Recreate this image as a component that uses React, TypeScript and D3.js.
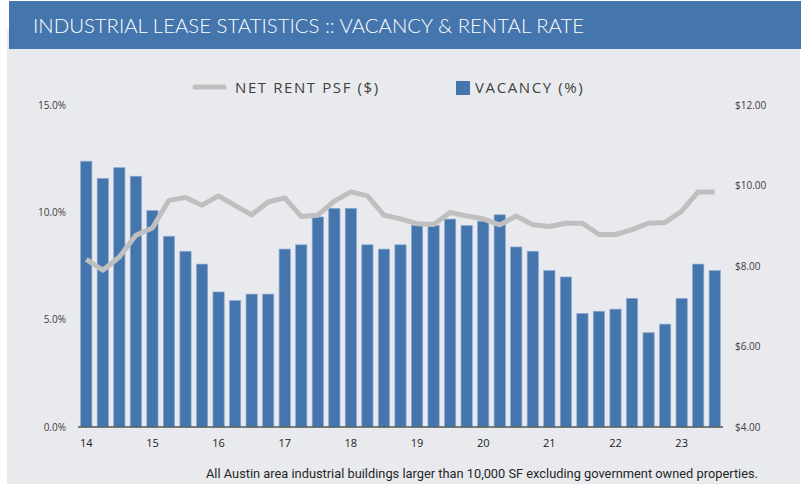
import React from "react";
import * as d3 from "d3";

const quarters: string[] = [];
const years = ["14", "15", "16", "17", "18", "19", "20", "21", "22", "23"];
years.forEach((y) => ["Q1", "Q2", "Q3", "Q4"].forEach((q) => quarters.push(`${y}${q}`)));
const categories = quarters.slice(0, 39);

const vacancy = [
  12.4, 11.6, 12.1, 11.7, 10.1, 8.9, 8.2, 7.6, 6.3, 5.9, 6.2, 6.2, 8.3, 8.5, 9.8, 10.2, 10.2, 8.5, 8.3,
  8.5, 9.4, 9.4, 9.7, 9.4, 9.6, 9.9, 8.4, 8.2, 7.3, 7.0, 5.3, 5.4, 5.5, 6.0, 4.4, 4.8, 6.0, 7.6, 7.3,
];

const rent = [
  8.17, 7.9, 8.23, 8.77, 8.95, 9.64, 9.71, 9.52, 9.75, 9.51, 9.28, 9.6, 9.7, 9.24, 9.27, 9.62, 9.85,
  9.75, 9.27, 9.18, 9.06, 9.04, 9.34, 9.25, 9.18, 9.03, 9.25, 9.03, 8.99, 9.07, 9.07, 8.79, 8.79, 8.91,
  9.07, 9.09, 9.37, 9.85, 9.85,
];

const leftTicks = [0, 5, 10, 15];
const rightTicks = [4, 6, 8, 10, 12];
const xTickLabels = years.map((y) => `${y}Q1`);

const W = 804;
const H = 484;
const plot = { left: 78, right: 723, top: 105.5, bottom: 427 };

export default function App() {
  const x = d3
    .scaleBand<string>()
    .domain(categories)
    .range([plot.left, plot.right])
    .paddingInner(0.32)
    .paddingOuter(0.16);
  const yL = d3.scaleLinear().domain([0, 15]).range([plot.bottom, plot.top]);
  const yR = d3.scaleLinear().domain([4, 12]).range([plot.bottom, plot.top]);
  const line = d3
    .line<number>()
    .x((_, i) => (x(categories[i]) as number) + x.bandwidth() / 2)
    .y((d) => yR(d));

  const axisFont = "'Open Sans', 'Noto Sans', sans-serif";

  return (
    <svg
      width={W}
      height={H}
      style={{ position: "absolute", left: 0, top: 0, display: "block" }}
    >
      <rect x={0} y={0} width={W} height={H} fill="#ffffff" />
      <rect x={7} y={30} width={793} height={H - 30} fill="#e9eaee" />
      <rect x={9} y={1} width={792} height={48} fill="#4575ad" />
      <text
        x={33}
        y={33}
        fill="#ffffff"
        fontFamily="Lato, sans-serif"
        fontWeight={300}
        fontSize={19}
        textLength={551}
        lengthAdjust="spacingAndGlyphs"
      >
        INDUSTRIAL LEASE STATISTICS :: VACANCY &amp; RENTAL RATE
      </text>

      {/* legend */}
      <line x1={195} x2={224} y1={87} y2={87} stroke="#bfbfbf" strokeWidth={5} strokeLinecap="round" />
      <text x={235} y={93} fill="#404040" fontFamily={axisFont} fontSize={15} letterSpacing={1.6}>
        NET RENT PSF ($)
      </text>
      <rect x={456} y={81} width={14} height={14} fill="#4575ad" />
      <text x={475} y={93} fill="#404040" fontFamily={axisFont} fontSize={15} letterSpacing={1.6}>
        VACANCY (%)
      </text>

      {/* bars */}
      {vacancy.map((v, i) => (
        <rect
          key={i}
          x={x(categories[i])}
          y={yL(v)}
          width={x.bandwidth()}
          height={plot.bottom - yL(v)}
          fill="#4575ad"
          stroke="#8eaad2"
          strokeWidth={0.7}
        />
      ))}

      {/* baseline */}
      <line x1={plot.left} x2={plot.right} y1={plot.bottom} y2={plot.bottom} stroke="#595959" strokeWidth={1.5} />

      {/* rent line */}
      <path d={line(rent) || ""} fill="none" stroke="#bfbfbf" strokeWidth={5} strokeLinejoin="round" />

      {/* left axis */}
      {leftTicks.map((t) => (
        <text
          key={t}
          x={66}
          y={yL(t) + 3.5}
          textAnchor="end"
          fill="#404040"
          fontFamily={axisFont}
          fontSize={10}
        >
          {d3.format(".1f")(t)}%
        </text>
      ))}

      {/* right axis */}
      {rightTicks.map((t) => (
        <text key={t} x={735} y={yR(t) + 3.5} fill="#404040" fontFamily={axisFont} fontSize={10}>
          {d3.format("$.2f")(t)}
        </text>
      ))}

      {/* x axis labels */}
      {xTickLabels.map((c) => (
        <text
          key={c}
          x={(x(c) as number) + x.bandwidth() / 2}
          y={447}
          textAnchor="middle"
          fill="#222222"
          fontFamily={axisFont}
          fontSize={11}
        >
          {c.slice(0, 2)}
        </text>
      ))}

      {/* footer */}
      <text
        x={206}
        y={478}
        fill="#262626"
        fontFamily="Roboto, sans-serif"
        fontSize={13}
        textLength={552}
        lengthAdjust="spacingAndGlyphs"
      >
        All Austin area industrial buildings larger than 10,000 SF excluding government owned properties.
      </text>
    </svg>
  );
}
